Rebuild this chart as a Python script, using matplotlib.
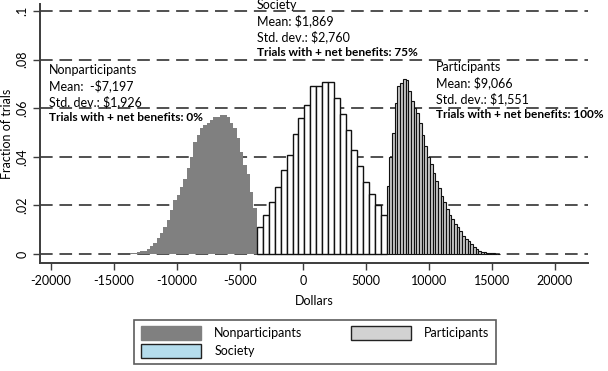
import numpy as np
import matplotlib
matplotlib.use("Agg")
import matplotlib.pyplot as plt
from matplotlib.patches import Patch

plt.rcParams['font.family'] = ['Lato', 'DejaVu Sans']

# Nonparticipants: net benefits histogram (fraction of trials)
nonpart_start = -13730
nonpart_width = 264.5
nonpart_frac = [0.0004, 0.0005, 0.0008, 0.0011, 0.0014, 0.0019, 0.0033, 0.0044,
                0.0065, 0.0085, 0.0112, 0.0140, 0.0181, 0.0222, 0.0243, 0.0277,
                0.0307, 0.0353, 0.0400, 0.0462, 0.0490, 0.0517, 0.0531, 0.0540,
                0.0551, 0.0563, 0.0563, 0.0572, 0.0572, 0.0565, 0.0538, 0.0517,
                0.0476, 0.0421, 0.0366, 0.0330, 0.0256, 0.0188, 0.0112]

# Society
society_start = -3627
society_width = 467
society_frac = [0.0112, 0.0160, 0.0213, 0.0276, 0.0344, 0.0406, 0.0493, 0.0558,
                0.0613, 0.0691, 0.0691, 0.0706, 0.0706, 0.0643, 0.0575, 0.0512,
                0.0428, 0.0362, 0.0296, 0.0247, 0.0202, 0.0160]

# Participants
part_start = 6640
part_width = 214
part_frac = [0.028, 0.040, 0.050, 0.062, 0.069, 0.0705, 0.072, 0.0715, 0.067,
             0.063, 0.060, 0.058, 0.054, 0.049, 0.0445, 0.040, 0.037, 0.0335,
             0.030, 0.027, 0.024, 0.0215, 0.0185, 0.016, 0.0145, 0.0125, 0.011,
             0.0094, 0.0076, 0.0062, 0.0052, 0.0041, 0.0029, 0.0019, 0.0013,
             0.0010, 0.0008, 0.0006, 0.0004, 0.0003, 0.0002, 0.0002]

xticks = [-20000, -15000, -10000, -5000, 0, 5000, 10000, 15000, 20000]
yticks = [0, 0.02, 0.04, 0.06, 0.08, 0.1]
ytick_labels = ["0", ".02", ".04", ".06", ".08", ".1"]

labels = ["Nonparticipants", "Society", "Participants"]
stats_text = {
    "Nonparticipants": ["Nonparticipants", "Mean:  -$7,197", "Std. dev.: $1,926",
                        "Trials with + net benefits: 0%"],
    "Society": ["Society", "Mean: $1,869", "Std. dev.: $2,760",
                "Trials with + net benefits: 75%"],
    "Participants": ["Participants", "Mean: $9,066", "Std. dev.: $1,551",
                     "Trials with + net benefits: 100%"],
}
text_pos = {
    "Nonparticipants": (-20160, 0.0757),
    "Society": (-3650, 0.1025),
    "Participants": (10560, 0.0771),
}

fig = plt.figure(figsize=(6.08, 3.71), dpi=100)
ax = fig.add_axes([40 / 608, 1 - 263 / 371, 548 / 608, 259 / 371])

axis_col = "#3c3c3c"

# gridlines (dashed) behind the bars
for yv in yticks:
    ax.axhline(yv, color="#505050", lw=1.4, dashes=(6.5, 3.5), zorder=0)

def edges(start, width, n):
    return start + width * np.arange(n)

ax.bar(edges(nonpart_start, nonpart_width, len(nonpart_frac)), nonpart_frac,
       width=nonpart_width, align="edge", color="#808080", edgecolor="none",
       linewidth=0, zorder=2)
ax.bar(edges(society_start, society_width, len(society_frac)), society_frac,
       width=society_width, align="edge", color="white", edgecolor="#111111",
       linewidth=1.0, zorder=3)
ax.bar(edges(part_start, part_width, len(part_frac)), part_frac,
       width=part_width, align="edge", color="#c8c8c8", edgecolor="#111111",
       linewidth=0.8, zorder=3)

ax.set_xlim(-20873, 22619)
ax.set_ylim(-0.0037, 0.1029)

ax.set_xticks(xticks)
ax.set_xticklabels([str(v) for v in xticks], fontsize=9)
ax.set_yticks(yticks)
ax.set_yticklabels(ytick_labels, fontsize=9, rotation=90, va="center")
ax.tick_params(axis="both", colors=axis_col, labelcolor="black", length=5,
               width=1.0)

for side in ["top", "right"]:
    ax.spines[side].set_visible(False)
for side in ["left", "bottom"]:
    ax.spines[side].set_color(axis_col)
    ax.spines[side].set_linewidth(1.4)

ax.set_xlabel("Dollars", fontsize=9, labelpad=6)
ax.set_ylabel("Fraction of trials", fontsize=9, labelpad=2)

line_step = 0.0065
for name in labels:
    x0, y0 = text_pos[name]
    for i, line in enumerate(stats_text[name]):
        bold = i == 3
        ax.text(x0, y0 - i * line_step, line, fontsize=8.6 if bold else 9,
                va="center", ha="left",
                fontweight="bold" if bold else "normal", zorder=5)

handles = [
    Patch(facecolor="#808080", edgecolor="#808080", label="Nonparticipants"),
    Patch(facecolor="#b4dcec", edgecolor="#222222", label="Society"),
    Patch(facecolor="#d2d2d2", edgecolor="#222222", label="Participants"),
]
leg = fig.legend(handles=handles, ncol=2, loc="lower left",
                 bbox_to_anchor=(128 / 608, 1 - 370 / 371, 374 / 608, 49 / 371),
                 mode="expand", fontsize=9, frameon=True, fancybox=False,
                 handlelength=4.8, handleheight=1.3, handletextpad=1.1,
                 borderpad=0.5, labelspacing=0.35, columnspacing=2.0)
leg.get_frame().set_edgecolor("#333333")
leg.get_frame().set_linewidth(1.2)

fig.savefig("out.png", dpi=100)
